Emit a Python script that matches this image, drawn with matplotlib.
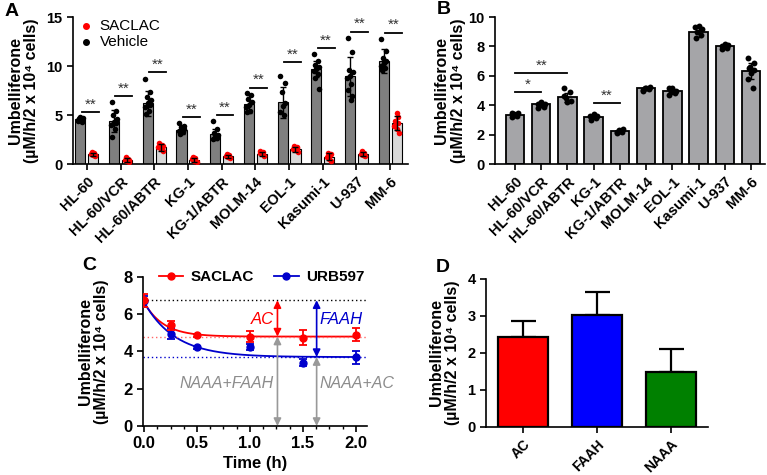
import numpy as np
import matplotlib.pyplot as plt

plt.rcParams['font.family'] = ['Liberation Sans', 'DejaVu Sans']
plt.rcParams['font.weight'] = 'bold'
plt.rcParams['axes.labelweight'] = 'bold'
plt.rcParams['axes.linewidth'] = 1.2

# ---------------- data ----------------
cells = ["HL-60", "HL-60/VCR", "HL-60/ABTR", "KG-1", "KG-1/ABTR",
         "MOLM-14", "EOL-1", "Kasumi-1", "U-937", "MM-6"]

# panel A - vehicle vs SACLAC
veh_mean = [4.6, 4.4, 6.2, 3.5, 3.05, 6.1, 6.3, 9.7, 8.95, 10.5]
veh_sd = [0.2, 1.1, 1.3, 0.45, 0.55, 0.9, 1.6, 0.8, 2.0, 1.2]
sac_mean = [1.0, 0.45, 1.7, 0.45, 0.8, 1.05, 1.5, 0.75, 1.05, 4.2]
sac_sd = [0.15, 0.2, 0.35, 0.2, 0.15, 0.2, 0.25, 0.35, 0.2, 0.7]
veh_pts = [
    [4.4, 4.5, 4.6, 4.7, 4.8, 4.5, 4.3, 4.6],
    [6.3, 5.4, 5.0, 4.6, 4.3, 4.0, 3.6, 2.8, 4.2],
    [8.7, 7.3, 6.8, 6.5, 6.2, 5.8, 5.4, 5.1, 6.0],
    [4.2, 3.9, 3.8, 3.6, 3.5, 3.4, 3.3, 3.1],
    [4.4, 3.6, 3.2, 3.0, 2.8, 2.6, 2.7],
    [7.2, 7.0, 6.6, 6.3, 6.0, 5.8, 5.4, 5.3],
    [9.0, 8.3, 7.3, 6.2, 5.9, 5.3, 5.0],
    [11.2, 10.5, 10.1, 9.9, 9.7, 9.5, 9.2, 8.8, 7.7],
    [12.9, 11.4, 9.6, 9.4, 9.0, 8.8, 8.2, 7.6, 6.9, 6.5],
    [12.8, 11.5, 10.8, 10.5, 10.3, 10.0, 9.8, 9.6],
]
sac_pts = [
    [0.8, 0.9, 1.0, 1.1, 1.2, 0.95],
    [0.2, 0.3, 0.4, 0.5, 0.7, 0.4],
    [1.3, 1.5, 1.7, 1.9, 2.1, 1.8],
    [0.2, 0.3, 0.5, 0.6, 0.7],
    [0.6, 0.7, 0.8, 0.9, 1.0],
    [0.8, 1.0, 1.1, 1.2, 1.3],
    [1.2, 1.4, 1.5, 1.6, 1.8, 1.7],
    [0.3, 0.5, 0.7, 0.9, 1.1, 1.0],
    [0.8, 0.9, 1.0, 1.1, 1.3],
    [3.2, 3.6, 3.9, 4.2, 4.4, 4.8, 5.2],
]
sig_a_height = [5.3, 6.9, 9.4, 4.8, 5.0, 7.8, 10.4, 11.8, 13.5, 13.4]

# panel B - basal activity
b_mean = [3.35, 4.05, 4.55, 3.2, 2.25, 5.15, 4.95, 8.95, 8.0, 6.35]
b_sd = [0.1, 0.15, 0.3, 0.1, 0.1, 0.1, 0.15, 0.3, 0.1, 0.55]
b_pts = [
    [3.2, 3.3, 3.4, 3.5, 3.35, 3.45],
    [3.8, 3.9, 4.0, 4.1, 4.2, 4.05],
    [5.2, 4.9, 4.5, 4.3, 4.2, 4.6],
    [3.0, 3.1, 3.2, 3.3, 3.4, 3.25],
    [2.1, 2.2, 2.3, 2.35, 2.25, 2.2],
    [5.0, 5.1, 5.2, 5.25, 5.15, 5.05],
    [4.7, 4.8, 4.9, 5.0, 5.15, 5.2],
    [8.6, 8.8, 9.0, 9.2, 9.4, 9.35],
    [7.85, 7.9, 8.0, 8.1, 8.15, 8.05],
    [7.2, 6.9, 6.6, 6.4, 6.2, 5.8, 5.2, 6.5],
]
b_sig = [(0, 1, 4.9, "*"), (0, 2, 6.2, "**"), (3, 4, 4.15, "**")]

# panel C - time course
time_h = [0, 0.25, 0.5, 1.0, 1.5, 2.0]
saclac_c = [6.75, 5.4, 4.88, 4.8, 4.75, 4.9]
saclac_c_sd = [0.35, 0.25, 0.08, 0.3, 0.4, 0.35]
urb_c = [6.7, 4.95, 4.22, 4.25, 3.4, 3.7]
urb_c_sd = [0.3, 0.3, 0.08, 0.15, 0.2, 0.35]
# one-phase decay fits: (start, plateau, rate per h)
saclac_fit = (6.65, 4.8, 5.5)
urb_fit = (6.65, 3.7, 3.4)
vehicle_level = 6.75

# panel D - contributions
enzymes = ["AC", "FAAH", "NAAA"]
enz_mean = [2.44, 3.02, 1.49]
enz_sd = [0.43, 0.62, 0.62]
enz_colors = ["#ff0000", "#0000ff", "#008000"]

ylab = "Umbelliferone\n(µM/h/2 x 10⁴ cells)"
jit = [-0.07, 0.06, -0.03, 0.08, 0.0, -0.08, 0.04, -0.05, 0.07, 0.02]

fig = plt.figure(figsize=(7.67, 4.75), dpi=100)


def style(ax, fs=10):
    for s in ['top', 'right']:
        ax.spines[s].set_visible(False)
    ax.tick_params(direction='out', length=4, width=1.2, labelsize=fs)
    for t in ax.get_yticklabels():
        t.set_fontweight('bold')


# ---------------- A ----------------
axA = fig.add_axes([0.0952, 0.6547, 0.4368, 0.3095])
x = np.arange(len(cells))
w = 0.3
off = 0.19
axA.bar(x - off, veh_mean, w, color='#7f7f7f', edgecolor='black', lw=0.8, zorder=1)
axA.bar(x + off, sac_mean, w, color='#d9d9d9', edgecolor='black', lw=0.8, zorder=1)
for i in range(len(cells)):
    vx = [i - off + jit[k % len(jit)] for k in range(len(veh_pts[i]))]
    sx = [i + off + jit[(k + 3) % len(jit)] * 0.8 for k in range(len(sac_pts[i]))]
    axA.scatter(vx, veh_pts[i], s=16, color='black', zorder=3, lw=0)
    axA.scatter(sx, sac_pts[i], s=16, color='red', zorder=3, lw=0)
axA.errorbar(x - off, veh_mean, yerr=veh_sd, fmt='none', ecolor='black',
             elinewidth=1, capsize=2.5, capthick=1, zorder=4)
axA.errorbar(x + off, sac_mean, yerr=sac_sd, fmt='none', ecolor='black',
             elinewidth=1, capsize=2.5, capthick=1, zorder=4)
for i, h in enumerate(sig_a_height):
    axA.plot([i - 0.15, i + 0.35], [h, h], color='black', lw=1.3)
    axA.text(i + 0.1, h + 0.05, "**", ha='center', va='bottom',
             fontsize=11, fontweight='normal', color='#333333')
axA.set_xlim(-0.41, 9.53)
axA.set_ylim(0, 15)
axA.set_yticks([0, 5, 10, 15])
axA.set_xticks(x)
axA.set_xticklabels(cells, rotation=45, ha='right', rotation_mode='anchor',
                    fontweight='bold')
axA.set_ylabel(ylab, fontsize=11.5, linespacing=1.15, labelpad=5)
axA.scatter([], [], s=16, color='red', label='SACLAC')
axA.scatter([], [], s=16, color='black', label='Vehicle')
axA.legend(loc='upper left', bbox_to_anchor=(-0.03, 1.08), frameon=False,
           handletextpad=0.3, labelspacing=0.15, prop={'weight': 'normal', 'size': 11},
           handlelength=1.2)
style(axA, fs=10.5)

# ---------------- B ----------------
axB = fig.add_axes([0.6454, 0.6547, 0.352, 0.3095])
axB.bar(x, b_mean, 0.7, color='#a5a5a8', edgecolor='black', lw=1.3, zorder=1)
for i in range(len(cells)):
    px = [i + jit[k % len(jit)] * 1.6 for k in range(len(b_pts[i]))]
    axB.scatter(px, b_pts[i], s=18, color='black', zorder=3, lw=0)
axB.errorbar(x, b_mean, yerr=b_sd, fmt='none', ecolor='black',
             elinewidth=1, capsize=2.5, capthick=1, zorder=4)
for a, b, h, s in b_sig:
    axB.plot([a, b], [h, h], color='black', lw=1.3)
    axB.text((a + b) / 2, h + 0.02, s, ha='center', va='bottom',
             fontsize=11, fontweight='normal', color='#333333')
axB.set_xlim(-0.76, 9.53)
axB.set_ylim(0, 10)
axB.set_yticks([0, 2, 4, 6, 8, 10])
axB.set_xticks(x)
axB.set_xticklabels(cells, rotation=45, ha='right', rotation_mode='anchor',
                    fontweight='bold')
axB.set_ylabel(ylab, fontsize=11.5, linespacing=1.15, labelpad=2)
style(axB, fs=10.5)

# ---------------- C ----------------
axC = fig.add_axes([0.1864, 0.1032, 0.292, 0.3137])
tt = np.linspace(0, 2, 200)
for fit, col in [(saclac_fit, 'red'), (urb_fit, '#0000cc')]:
    y0, plat, k = fit
    axC.plot(tt, plat + (y0 - plat) * np.exp(-k * tt), color=col, lw=1.3, zorder=2)
axC.errorbar(time_h, saclac_c, yerr=saclac_c_sd, fmt='o', color='red', ms=5,
             capsize=3, elinewidth=1.3, capthick=1.3, zorder=4)
axC.errorbar(time_h, urb_c, yerr=urb_c_sd, fmt='o', color='#0000cc', ms=5,
             capsize=3, elinewidth=1.3, capthick=1.3, zorder=3)
axC.axhline(vehicle_level, color='black', ls=(0, (1, 2)), lw=1)
axC.axhline(saclac_fit[1], color='#ff6666', ls=(0, (1, 2)), lw=1)
axC.axhline(urb_fit[1], color='#0000cc', ls=(0, (1, 2)), lw=1)
x_ac, x_faah = 1.26, 1.63
arr = dict(arrowstyle='<|-|>', lw=1.2, mutation_scale=11, shrinkA=0, shrinkB=0)
axC.annotate('', xy=(x_ac, vehicle_level), xytext=(x_ac, saclac_fit[1]),
             arrowprops=dict(arr, color='red'))
axC.annotate('', xy=(x_faah, vehicle_level), xytext=(x_faah, urb_fit[1]),
             arrowprops=dict(arr, color='#0000cc'))
axC.annotate('', xy=(x_ac, saclac_fit[1]), xytext=(x_ac, 0),
             arrowprops=dict(arr, color='#999999'))
axC.annotate('', xy=(x_faah, urb_fit[1]), xytext=(x_faah, 0),
             arrowprops=dict(arr, color='#999999'))
axC.text(1.23, 5.7, "AC", color='red', style='italic', fontweight='normal',
         fontsize=12, ha='right', va='center')
axC.text(1.66, 5.7, "FAAH", color='#0000cc', style='italic', fontweight='normal',
         fontsize=12, ha='left', va='center')
axC.text(1.22, 2.3, "NAAA+FAAH", color='#8c8c8c', style='italic', fontweight='normal',
         fontsize=11.5, ha='right', va='center')
axC.text(1.66, 2.3, "NAAA+AC", color='#8c8c8c', style='italic', fontweight='normal',
         fontsize=11.5, ha='left', va='center', clip_on=False)
axC.set_xlim(-0.01, 2.105)
axC.set_ylim(0, 8)
axC.set_xticks([0, 0.5, 1.0, 1.5, 2.0])
axC.set_xticklabels(["0.0", "0.5", "1.0", "1.5", "2.0"], fontweight='bold')
axC.set_xticks(np.arange(0, 2.1, 0.125), minor=True)
axC.tick_params(which='minor', length=2.5, width=1)
axC.set_yticks([0, 2, 4, 6, 8])
axC.set_xlabel("Time (h)", fontsize=12, labelpad=3)
axC.set_ylabel(ylab, fontsize=11.5, linespacing=1.15, labelpad=10)
style(axC, fs=12)
axC.plot([], [], 'o-', color='red', ms=5, lw=1.3, label='SACLAC')
axC.plot([], [], 'o-', color='#0000cc', ms=5, lw=1.3, label='URB597')
axC.legend(loc='center', bbox_to_anchor=(0.53, 1.0), ncol=2, frameon=False,
           handlelength=1.6, columnspacing=1.3, handletextpad=0.5,
           prop={'weight': 'bold', 'size': 11})

# ---------------- D ----------------
axD = fig.add_axes([0.6336, 0.1011, 0.2894, 0.3116])
xd = np.arange(len(enzymes))
axD.bar(xd, enz_mean, 0.68, color=enz_colors, edgecolor='black', lw=1.6, zorder=2)
axD.errorbar(xd, enz_mean, yerr=[[0] * 3, enz_sd], fmt='none', ecolor='black',
             elinewidth=1.6, capsize=9, capthick=1.6, zorder=1)
axD.set_xlim(-0.5, 2.5)
axD.set_ylim(0, 4)
axD.set_yticks([0, 1, 2, 3, 4])
axD.set_xticks(xd)
axD.set_xticklabels(enzymes, rotation=45, ha='right', rotation_mode='anchor',
                    fontweight='bold')
axD.set_ylabel(ylab, fontsize=11.5, linespacing=1.15, labelpad=5)
style(axD, fs=10.5)
axD.tick_params(axis='x', labelsize=10)

for lab, px, py in [("A", 5, 11), ("B", 437, 9), ("C", 82, 266), ("D", 436, 267)]:
    fig.text(px / 767, 1 - py / 475, lab, fontsize=14, fontweight='bold',
             ha='left', va='center')

fig.savefig("out.png", dpi=100)
